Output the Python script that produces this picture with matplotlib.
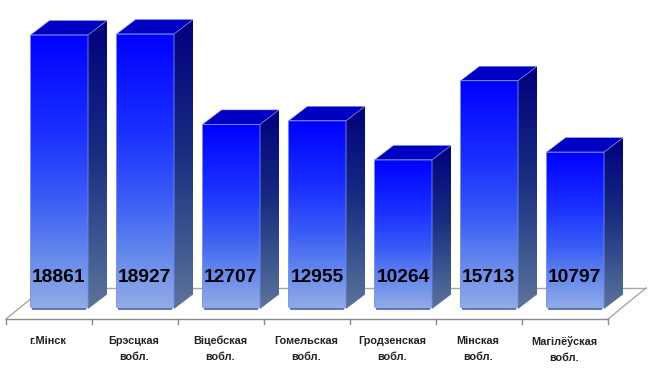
import numpy as np
import matplotlib
matplotlib.use('Agg')
import matplotlib.pyplot as plt
from matplotlib.colors import LinearSegmentedColormap
from matplotlib.patches import Polygon

# Дадзеныя
categories = ['г.Мінск', 'Брэсцкая\nвобл.', 'Віцебская\nвобл.', 'Гомельская\nвобл.',
              'Гродзенская\nвобл.', 'Мінская\nвобл.', 'Магілёўская\nвобл.']
values = [18861, 18927, 12707, 12955, 10264, 15713, 10797]

plt.rcParams['font.family'] = ['Liberation Sans', 'DejaVu Sans']

fig = plt.figure(figsize=(6.5, 3.74), dpi=100)
ax = fig.add_axes([0, 0, 1, 1])
# x: 1 unit = one category slot, y: value units (floor of the front face at 0)
px_x = 86.0
px_y = 274.0 / 18861
ax.axis('off')

dx = 19 / px_x
dy = 14.5 / px_y
bar_w = 57.5 / px_x
pad = 24.5 / px_x
floor = -10 / px_y
n = len(values)
line_col = '#a6a6a6'
cx = 2.5 / px_x
cy = 2.5 / px_y

# Floor
ax.plot([0, 27 / px_x], [floor, floor + 22 / px_y], color=line_col, lw=1, zorder=1)
ax.plot([n, n + 38 / px_x], [floor, floor + 31 / px_y], color=line_col, lw=1, zorder=1)
ax.plot([30 / px_x, n + 38 / px_x], [floor + 31 / px_y] * 2, color=line_col, lw=1, zorder=1)
ax.plot([0, n], [floor, floor], color='#8c8c8c', lw=1, zorder=1)
for i in range(n + 1):
    ax.plot([i, i], [floor, floor - 5 / px_y], color='#8c8c8c', lw=1, zorder=1)

front_cmap = LinearSegmentedColormap.from_list('front', [(0, '#0000ff'), (0.35, '#1a30ff'),
                                                         (0.6, '#3a5cf5'), (0.8, '#6488ec'),
                                                         (1, '#93ade6')])
side_cmap = LinearSegmentedColormap.from_list('side', [(0, '#00007d'), (0.45, '#182c80'),
                                                       (0.75, '#3a5590'), (1, '#5f7399')])


def gradient_poly(pts, cmap, y0, y1):
    poly = Polygon(pts, closed=True, transform=ax.transData, fc='none', ec='none')
    ax.add_patch(poly)
    xs = [p[0] for p in pts]
    im = ax.imshow(np.linspace(0, 1, 256).reshape(-1, 1), cmap=cmap, aspect='auto',
                   extent=[min(xs), max(xs), y0, y1], zorder=3, origin='upper')
    im.set_clip_path(poly)


for i, v in enumerate(values):
    x0 = i + pad
    x1 = x0 + bar_w
    # side
    gradient_poly([(x1, 0), (x1 + dx, dy), (x1 + dx, v + dy), (x1, v)], side_cmap, 0, v + dy)
    # top
    ax.add_patch(Polygon([(x0, v), (x1, v), (x1 + dx, v + dy), (x0 + dx, v + dy)],
                         closed=True, fc='#0000c4', ec='#8f9fe8', lw=0.4, zorder=4))
    # front, bottom corners cut a little
    front = [(x0, cy), (x0 + cx, 0), (x1 - cx, 0), (x1, cy), (x1, v), (x0, v)]
    gradient_poly(front, front_cmap, 0, v)
    ax.add_patch(Polygon(front, closed=True, fc='none', ec='#6f8cf0', lw=0.6, zorder=4))
    ax.plot([x0 + cx, x1 - cx], [0, 0], color='#4f6bb8', lw=1.2, zorder=4)
    ax.text(i + 0.615, 32 / px_y, str(v), ha='center', va='center', fontsize=13.8,
            fontweight='bold', color='black', zorder=5)
    ax.text(i + 0.49, -27 / px_y, categories[i], ha='center', va='top', fontsize=7.8,
            fontweight='bold', color='#222222', linespacing=1.7, zorder=5)

ax.set_xlim(-6 / px_x, 644 / px_x)
ax.set_ylim(-65 / px_y, 309 / px_y)
fig.savefig('out.png', dpi=100)
